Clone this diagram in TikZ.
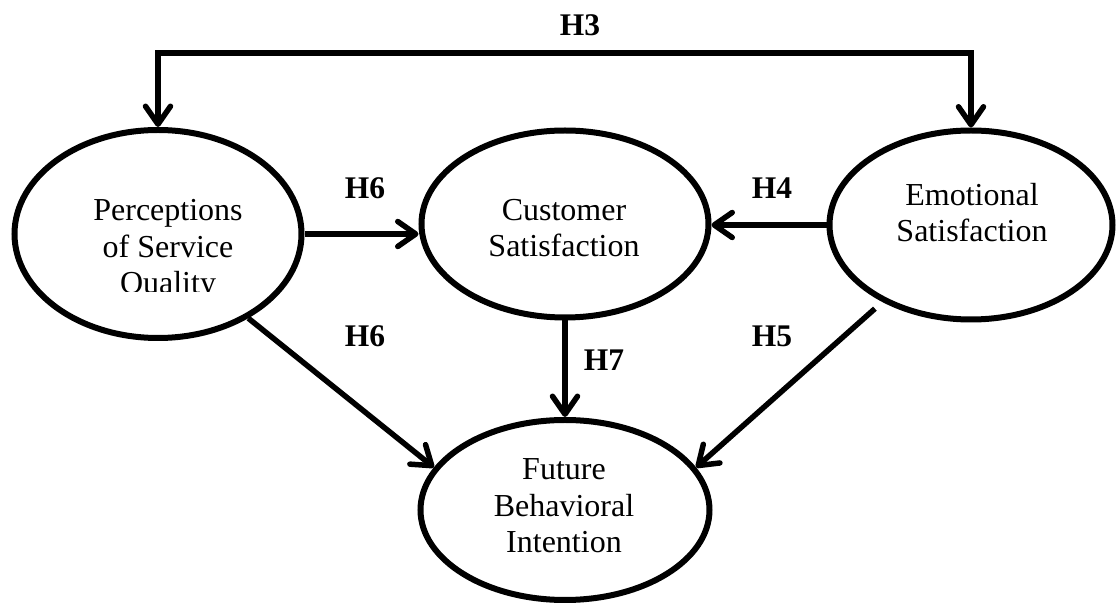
\documentclass[tikz,border=0pt]{standalone}
\usepackage{fontspec}
\setmainfont{Liberation Serif}
\usetikzlibrary{arrows.meta,shapes.geometric}
\begin{document}
\begin{tikzpicture}[x=0.5pt,y=-0.5pt,
  >={Straight Barb[length=9pt,width=12.5pt,round]},
  construct/.style={draw, ellipse, line width=3pt, inner sep=0pt},
  caption/.style={align=center, font=\fontsize{16}{18.4}\selectfont, anchor=base, inner sep=0pt},
  hyp/.style={font=\fontsize{15.75}{18}\selectfont\bfseries, inner sep=0pt},
  link/.style={line width=2.75pt, ->},
]
\useasboundingbox (0,0) rectangle (1116,609);

% constructs
\node[construct, minimum width=143.5pt, minimum height=104pt] (psq) at (158,234) {};
\node[construct, minimum width=143.5pt, minimum height=93.5pt] (cs) at (565,224) {};
\node[construct, minimum width=141.5pt, minimum height=94.5pt] (es) at (971,225) {};
\node[construct, minimum width=144.5pt, minimum height=90pt] (fbi) at (565,510) {};

% construct names (anchored at the baseline of the last line)
\begin{scope}
  \clip (0,0) rectangle (1116,292);
  \node[caption] (psq-text) at (168,294) {Perceptions\\of Service\\Quality};
\end{scope}
\node[caption] (cs-text) at (564,257) {Customer\\Satisfaction};
\node[caption] (es-text) at (972,242) {Emotional\\Satisfaction};
\node[caption] (fbi-text) at (564,553) {Future\\Behavioral\\Intention};

% hypothesis labels
\node[hyp] (h3) at (580,25) {H3};
\node[hyp] (h6a) at (365,188) {H6};
\node[hyp] (h4) at (772,188) {H4};
\node[hyp] (h6b) at (365,336) {H6};
\node[hyp] (h7) at (604,360) {H7};
\node[hyp] (h5) at (772,336) {H5};

% paths
\coordinate (h3bar) at (565,53);
\draw[link, <->] (psq.north) |- (h3bar) -| (es.north);
\draw[link] (psq.east) -- (cs.west |- psq.east);
\draw[link] (es.west) -- (cs.east |- es.west);
\draw[link] (cs.south) -- (cs.south |- fbi.north);
\draw[link] (psq.-43.6) -- (fbi.162.5);
\draw[link, shorten <=5pt] (es.-139) -- (fbi.18);
\end{tikzpicture}
\end{document}
